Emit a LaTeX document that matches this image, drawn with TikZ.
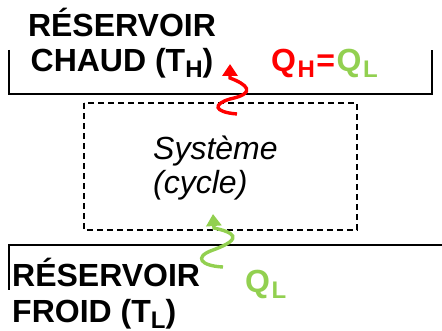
\documentclass[tikz,border=0pt]{standalone}
\usepackage{fontspec}
\setmainfont{Liberation Sans}
\usetikzlibrary{arrows.meta}
\definecolor{qred}{HTML}{FF0000}
\definecolor{qgreen}{HTML}{92D050}
\tikzset{
  wall/.style={line width=1.4pt, black},
  sysbox/.style={line width=1.2pt, dash pattern=on 6pt off 4pt},
  big/.style={inner sep=0pt, font=\fontsize{32}{35}\selectfont\bfseries},
  sys/.style={inner sep=0pt, font=\fontsize{32}{35}\selectfont\itshape},
  heat/.style={line width=3.4pt, -{Triangle[length=12pt,width=15pt]}},
}
\newcommand{\sbs}[1]{\raisebox{-6pt}{\fontsize{24}{24}\selectfont #1}}
\begin{document}
\begin{tikzpicture}[x=1pt,y=-1pt]
\useasboundingbox (0,0) rectangle (442,331);
% hot reservoir
\coordinate (h1) at (9,50);
\coordinate (h2) at (9,94);
\coordinate (h3) at (432,94);
\coordinate (h4) at (432,50);
\draw[wall] (h1) -- (h2) -- (h3) -- (h4);
% cold reservoir
\coordinate (c1) at (442,245);
\coordinate (c2) at (9,245);
\coordinate (c3) at (9,290);
\draw[wall] (c1) -- (c2) -- (c3);
% system
\coordinate (s1) at (84,103);
\coordinate (s2) at (357,230);
\draw[sysbox] (s1) rectangle (s2);
% texts
\node[big, anchor=base] (hA) at (122,36.5) {RÉSERVOIR};
\node[big, anchor=base] (hB) at (122,71.5) {CHAUD (T\sbs{H})};
\node[big, anchor=base west] (cA) at (12,287) {RÉSERVOIR};
\node[big, anchor=base west] (cB) at (12,322) {FROID (T\sbs{L})};
\node[sys, anchor=base west] (sA) at (153,160) {Système};
\node[sys, anchor=base west] (sB) at (153,194) {(cycle)};
\node[big, anchor=base west] (qh) at (271,72) {\textcolor{qred}{Q\kern1.5pt\sbs{H}\kern1.5pt=}\kern1.5pt\textcolor{qgreen}{Q\kern1.5pt\sbs{L}}};
\node[big, anchor=base west, text=qgreen] (ql) at (245,292) {Q\kern1.5pt\sbs{L}};
% heat arrows
\coordinate (r0) at (237,114);
\coordinate (r1) at (230,99);
\coordinate (r2) at (230,78);
\coordinate (rt) at (230,64);
\draw[heat, qred] (r0) .. controls (213,112) and (213,104) .. (r1)
  .. controls (258,93) and (246,84) .. (r2) -- (rt);
\coordinate (g0) at (223,267);
\coordinate (g1) at (213,250);
\coordinate (g2) at (214,228);
\coordinate (gt) at (213,214);
\draw[heat, qgreen] (g0) .. controls (201,266) and (193,257) .. (g1)
  .. controls (246,238) and (232,232) .. (g2) -- (gt);
\end{tikzpicture}
\end{document}
